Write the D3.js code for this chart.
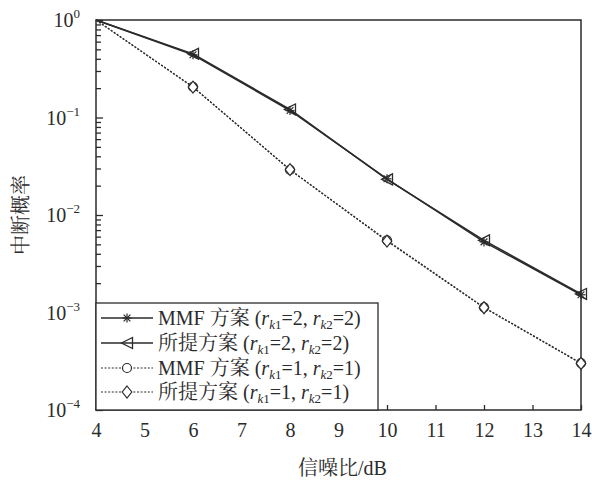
<!DOCTYPE html>
<html><head><meta charset="utf-8">
<script src="https://cdn.jsdelivr.net/npm/d3@7"></script>
<style>body{margin:0;background:#fff}</style>
</head><body>
<svg id="c" width="592" height="480"></svg>
<script>
const snr = [4, 6, 8, 10, 12, 14];
const mmf22 = [1, 0.44, 0.118, 0.0235, 0.0053, 0.00152];
const prop22 = [1, 0.45, 0.121, 0.0232, 0.0055, 0.00155];
const mmf11 = [1, 0.206, 0.029, 0.0055, 0.00113, 0.000303];
const prop11 = [1, 0.205, 0.0292, 0.0054, 0.00112, 0.000300];
const xTicks = [4,5,6,7,8,9,10,11,12,13,14];
const yExps = [0,-1,-2,-3,-4];
const xTitle = "信噪比/dB";
const yTitle = "中断概率";
const legendNames = ["MMF 方案", "所提方案", "MMF 方案", "所提方案"];
const legendR = [[2,2],[2,2],[1,1],[1,1]];

const FONT = '"Liberation Serif","Noto Serif CJK SC","Noto Sans CJK SC",serif';
const ink = "#2b2b2b";
const svg = d3.select("#c");
const L = 96, R = 581, T = 20, B = 410;
const x = d3.scaleLinear().domain([4,14]).range([L,R]);
const y = d3.scaleLog().domain([1e-4,1]).range([B,T]);

svg.append("rect").attr("x",L).attr("y",T).attr("width",R-L).attr("height",B-T)
  .attr("fill","none").attr("stroke",ink).attr("stroke-width",1.5);

const xa = svg.append("g").attr("transform",`translate(0,${B})`)
  .call(d3.axisBottom(x).tickValues(xTicks).tickSize(-5).tickPadding(13).tickFormat(d3.format("d")));
xa.select(".domain").remove();
xa.selectAll("line").attr("stroke",ink).attr("stroke-width",1.3);
xa.selectAll("text").style("font-family",FONT).attr("font-size",20).attr("fill",ink);

const minor = [];
for (let e=-4;e<0;e++) for (let m=2;m<=9;m++) minor.push(m*Math.pow(10,e));
const ya = svg.append("g").attr("transform",`translate(${L},0)`)
  .call(d3.axisLeft(y).tickValues(minor).tickSize(-5).tickFormat(""));
ya.select(".domain").remove();
ya.selectAll("line").attr("stroke",ink).attr("stroke-width",1.3);
const yb = svg.append("g").attr("transform",`translate(${L},0)`)
  .call(d3.axisLeft(y).tickValues(yExps.map(e=>Math.pow(10,e))).tickSize(-7).tickFormat(""));
yb.select(".domain").remove();
yb.selectAll("line").attr("stroke",ink).attr("stroke-width",1.3);

yExps.forEach(e=>{
  const t = svg.append("text").attr("x",80).attr("y",y(Math.pow(10,e))+7)
    .attr("text-anchor","end").style("font-family",FONT).attr("font-size",20).attr("fill",ink);
  t.append("tspan").text("10");
  t.append("tspan").attr("dy",-9).attr("font-size",13).text(e===0?"0":"\u2212"+(-e));
});

svg.append("text").attr("x",(L+R)/2+4).attr("y",475).attr("text-anchor","middle")
  .style("font-family",FONT).attr("font-size",20).attr("fill",ink).text(xTitle);
svg.append("text").attr("transform",`translate(28,${(T+B)/2}) rotate(-90)`).attr("text-anchor","middle")
  .style("font-family",FONT).attr("font-size",20).attr("fill",ink).text(yTitle);

function drawMarker(g, type, cx, cy){
  if(type==="star"){
    const s=4.5;
    [[0,-s,0,s],[-s,0,s,0],[-s*0.75,-s*0.75,s*0.75,s*0.75],[-s*0.75,s*0.75,s*0.75,-s*0.75]].forEach(p=>{
      g.append("line").attr("x1",cx+p[0]).attr("y1",cy+p[1]).attr("x2",cx+p[2]).attr("y2",cy+p[3])
       .attr("stroke",ink).attr("stroke-width",1.2);
    });
  } else if(type==="tri"){
    const s=5.5;
    g.append("path").attr("d",`M${cx-s},${cy} L${cx+s},${cy-s} L${cx+s},${cy+s} Z`)
      .attr("fill","none").attr("stroke",ink).attr("stroke-width",1.3);
  } else if(type==="circle"){
    g.append("circle").attr("cx",cx).attr("cy",cy).attr("r",4.5)
      .attr("fill","#fff").attr("stroke",ink).attr("stroke-width",1.2);
  } else if(type==="diamond"){
    const s=6;
    g.append("path").attr("d",`M${cx},${cy-s} L${cx+s*0.8},${cy} L${cx},${cy+s} L${cx-s*0.8},${cy} Z`)
      .attr("fill","#fff").attr("stroke",ink).attr("stroke-width",1.2);
  }
}

const series = [
  {vals: mmf22, marker:"star", dash:null, w:1.5},
  {vals: prop22, marker:"tri", dash:null, w:1.5},
  {vals: mmf11, marker:"circle", dash:"2,1.6", w:1.2},
  {vals: prop11, marker:"diamond", dash:"2,1.6", w:1.2}
];
const line = d3.line().x((d,i)=>x(snr[i])).y(d=>y(d));
const plot = svg.append("g");
series.forEach(s=>{
  plot.append("path").datum(s.vals).attr("d",line).attr("fill","none")
    .attr("stroke",ink).attr("stroke-width",s.w).attr("stroke-dasharray",s.dash);
});
series.forEach(s=>{
  s.vals.forEach((v,i)=>{ if(i>0) drawMarker(plot, s.marker, x(snr[i]), y(v)); });
});

const lg = svg.append("g");
lg.append("rect").attr("x",L).attr("y",303).attr("width",282).attr("height",B-303)
  .attr("fill","#fff").attr("stroke",ink).attr("stroke-width",1.3);
const rowY = [318, 343, 368, 392];
series.forEach((s,i)=>{
  const cy = rowY[i];
  lg.append("line").attr("x1",101).attr("x2",153).attr("y1",cy).attr("y2",cy)
    .attr("stroke",ink).attr("stroke-width",s.w).attr("stroke-dasharray",s.dash);
  drawMarker(lg, s.marker, 127, cy);
  const t = lg.append("text").attr("x",158).attr("y",cy+7)
    .style("font-family",FONT).attr("font-size",20).attr("fill",ink);
  t.append("tspan").text(legendNames[i]+" (");
  t.append("tspan").attr("font-style","italic").text("r");
  t.append("tspan").attr("font-style","italic").attr("font-size",13).attr("dy",4).text("k");
  t.append("tspan").attr("font-size",13).text("1");
  t.append("tspan").attr("dy",-4).text("="+legendR[i][0]+", ");
  t.append("tspan").attr("font-style","italic").text("r");
  t.append("tspan").attr("font-style","italic").attr("font-size",13).attr("dy",4).text("k");
  t.append("tspan").attr("font-size",13).text("2");
  t.append("tspan").attr("dy",-4).text("="+legendR[i][1]+")");
});
</script>
</body></html>
